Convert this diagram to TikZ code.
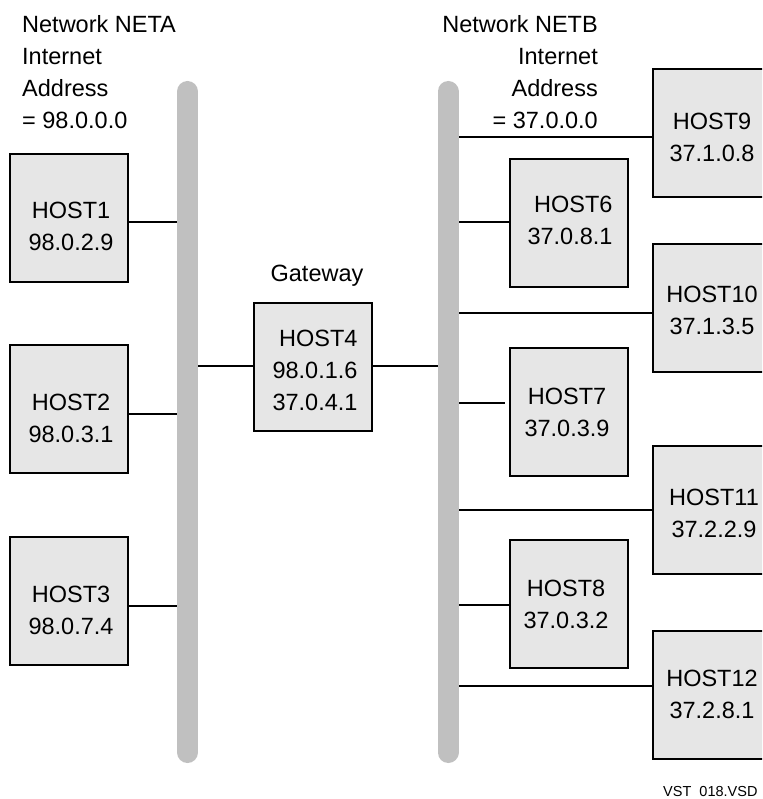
\documentclass[tikz,border=0pt]{standalone}
\usepackage{fontspec}
\setmainfont{Liberation Sans}
\definecolor{busgray}{RGB}{192,192,192}
\definecolor{boxgray}{RGB}{230,230,230}
\begin{document}
\begin{tikzpicture}[x=1pt,y=-1pt,
  hostbox/.style={draw=black, line width=2pt, fill=boxgray, anchor=north west,
    minimum width=118pt, minimum height=128pt, inner sep=0pt},
  txt/.style={font=\fontsize{23.5}{32}\selectfont, inner sep=0pt, align=center, anchor=north},
  link/.style={draw=black, line width=1.8pt},
  bus/.style={draw=busgray, line width=21pt, line cap=round}]
\useasboundingbox (0,0) rectangle (762,799);
\clip (0,0) rectangle (762,799);

% bus end points
\coordinate (atop) at (187.5,91.5);
\coordinate (abot) at (187.5,752.5);
\coordinate (btop) at (448,91.5);
\coordinate (bbot) at (448,752.5);

% host boxes
\node[hostbox] (h1)  at (9,153)   {};
\node[hostbox] (h2)  at (9,344)   {};
\node[hostbox] (h3)  at (9,536)   {};
\node[hostbox] (h4)  at (253,302) {};
\node[hostbox] (h9)  at (652,68)  {};
\node[hostbox] (h6)  at (509,158) {};
\node[hostbox] (h10) at (652,243) {};
\node[hostbox] (h7)  at (509,347) {};
\node[hostbox] (h11) at (652,445) {};
\node[hostbox] (h8)  at (509,539) {};
\node[hostbox] (h12) at (652,630) {};

% tap points on the buses
\coordinate (t1)  at (187.5,222);
\coordinate (t2)  at (187.5,414);
\coordinate (t3)  at (187.5,606);
\coordinate (t4a) at (187.5,366);
\coordinate (t4b) at (448,366);
\coordinate (t9)  at (448,137);
\coordinate (t6)  at (448,222);
\coordinate (t10) at (448,313);
\coordinate (t7)  at (448,403);
\coordinate (t11) at (448,510);
\coordinate (t8)  at (448,605);
\coordinate (t12) at (448,686);

% connectors (drawn first, the buses cover their inner ends)
\draw[link] (t1) -- (t1 -| h1.east);
\draw[link] (t2) -- (t2 -| h2.east);
\draw[link] (t3) -- (t3 -| h3.east);
\draw[link] (t4a) -- (t4a -| h4.west);
\draw[link] (t4b) -- (t4b -| h4.east);
\draw[link] (t9) -- (t9 -| h9.west);
\draw[link] (t6) -- (t6 -| h6.west);
\draw[link] (t10) -- (t10 -| h10.west);
\draw[link] (t7) -- ([xshift=-4pt]t7 -| h7.west);
\draw[link] (t11) -- (t11 -| h11.west);
\draw[link] (t8) -- (t8 -| h8.west);
\draw[link] (t12) -- (t12 -| h12.west);

% network buses
\draw[bus] (atop) -- (abot);
\draw[bus] (btop) -- (bbot);

% host labels
\node[txt] (l1)  at (71,202)  {HOST1\\98.0.2.9};
\node[txt] (l2)  at (71,394)  {HOST2\\98.0.3.1};
\node[txt] (l3)  at (71,586)  {HOST3\\98.0.7.4};
\node[txt, align=right] (l4) at (315,330) {HOST4\\98.0.1.6\\37.0.4.1};
\node[txt] (l9)  at (712,113) {HOST9\\37.1.0.8};
\node[txt, align=right] (l6) at (570,196) {HOST6\\37.0.8.1};
\node[txt] (l10) at (712,286) {HOST10\\37.1.3.5};
\node[txt] (l7)  at (567,388) {HOST7\\37.0.3.9};
\node[txt] (l11) at (714,489) {HOST11\\37.2.2.9};
\node[txt] (l8)  at (566,580) {HOST8\\37.0.3.2};
\node[txt] (l12) at (712,670) {HOST12\\37.2.8.1};

% headings
\node[txt] (gw) at (317,265) {Gateway};
\node[txt, align=left, anchor=north west] (neta) at (22,15)
  {Network NETA\\Internet\\Address\\= 98.0.0.0};
\node[txt, align=right, anchor=north east] (netb) at (598,15)
  {Network NETB\\Internet\\Address\\= 37.0.0.0};

% drawing id
\node[font=\fontsize{14.5}{16}\selectfont, inner sep=0pt, anchor=base west] (vsd)
  at (663,796) {VST\ \ 018.VSD};
\end{tikzpicture}
\end{document}
